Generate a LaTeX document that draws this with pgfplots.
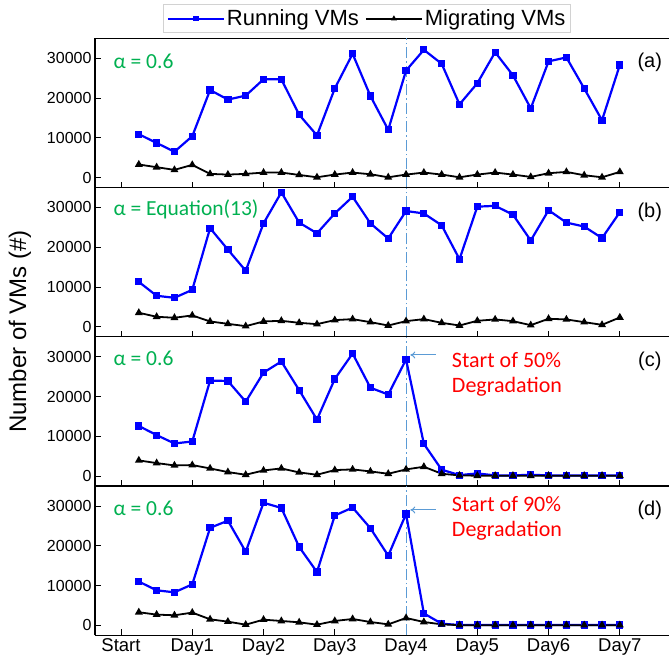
\documentclass[border=0pt]{standalone}
\usepackage{pgfplots}
\pgfplotsset{compat=1.18}
\usepackage{pgfplotstable}
\usetikzlibrary{arrows.meta}
\usepackage{fontspec}
\setmainfont{Liberation Sans}
\newfontfamily\calibri{Carlito}
\definecolor{vmblue}{RGB}{0,0,255}
\definecolor{alphagreen}{RGB}{0,176,80}
\definecolor{lineblue}{RGB}{91,155,213}

\pgfplotstableread{
x ra ma rb mb rc mc rd md
0.25 10900 3290 11300 3540 12600 3940 11000 3290
0.50 8700 2610 7800 2530 10300 3270 8800 2700
0.75 6500 1940 7300 2280 8200 2680 8300 2530
1.00 10400 3200 9300 2870 8700 2770 10300 3200
1.25 22000 930 24800 1350 24000 1930 24500 1520
1.50 19600 760 19400 760 23900 1010 26300 930
1.75 20600 930 14100 170 18700 340 18500 170
2.00 24700 1260 26000 1350 26000 1420 30800 1430
2.25 24700 1260 33800 1520 28800 1930 29500 1100
2.50 15800 670 26200 1010 21600 920 19700 760
2.75 10600 80 23500 680 14200 340 13400 170
3.00 22400 760 28500 1690 24400 1510 27600 1100
3.25 31100 1260 32700 1940 30800 1680 29600 1600
3.50 20500 840 26000 1180 22200 1170 24400 840
3.75 12000 80 22200 340 20500 590 17500 250
4.00 26900 760 29100 1430 29300 1680 28000 1850
4.25 32100 1260 28500 1940 8100 2350 3000 840
4.50 28600 760 25500 1010 1600 590 420 250
4.75 18400 80 17000 340 250 170 80 50
5.00 23700 760 30200 1520 670 100 80 50
5.25 31500 1260 30400 1860 170 100 80 50
5.50 25700 760 28200 1430 170 100 80 50
5.75 17400 170 21700 420 340 100 80 50
6.00 29200 1100 29300 2030 170 100 80 50
6.25 30200 1430 26200 1860 170 100 80 50
6.50 22400 590 25200 1180 170 100 80 50
6.75 14400 80 22300 510 170 100 80 50
7.00 28300 1430 28800 2360 170 100 80 50
}\data

\tikzset{
  run/.style={vmblue, line width=2.2pt, mark=square*, mark size=2.5pt, mark options={solid}},
  mig/.style={black, line width=1.8pt, mark=triangle*, mark size=2.8pt, mark options={solid}},
  vline/.style={lineblue, line width=1.1pt, dash pattern=on 11pt off 3pt on 1.5pt off 3pt},
  alab/.style={anchor=west, text=alphagreen, font=\calibri\fontsize{21.5}{24}\selectfont},
  plab/.style={font=\fontsize{20}{22}\selectfont},
  rlab/.style={anchor=west, text=red, align=left, font=\calibri\fontsize{22}{25.3}\selectfont},
  arr/.style={lineblue, line width=1pt, -{To[length=5pt,width=7pt]}},
}

\pgfplotsset{
  panel/.style={
    scale only axis, width=574pt, height=149.25pt,
    xmin=-0.365, xmax=7.69, ymin=-2500, ymax=35000,
    axis x line*=box, axis y line*=left,
    axis line style={-, line width=1.2pt, black},
    xtick={0,...,7}, xticklabels={},
    xtick pos=bottom, ytick pos=left,
    ytick={0,10000,20000,30000},
    tick align=inside, major tick length=6pt,
    tick style={black, line width=0.9pt},
    scaled y ticks=false,
    /pgf/number format/1000 sep={},
    /pgf/number format/assume math mode=true,
    yticklabel style={font=\fontsize{16}{18}\selectfont},
    xticklabel style={font=\fontsize{18.5}{20}\selectfont},
  },
}

\begin{document}
\begin{tikzpicture}
% (a)
\begin{axis}[panel, at={(95pt,476.45pt)}, anchor=south west,
  legend columns=2,
  legend image code/.code={\draw[mark repeat=2,mark phase=2,#1,mark size=1.6pt] plot coordinates {(0pt,0pt) (28pt,0pt) (56pt,0pt)};},
  legend style={at={(0.474,1)}, anchor=south, yshift=5pt, draw=gray!35, line width=0.8pt,
    font=\fontsize{22}{24}\selectfont, inner xsep=3pt, inner ysep=3.5pt,
    /tikz/every even column/.append style={column sep=4pt}},
  ]
\addplot[vline, forget plot] coordinates {(4,-2500) (4,35000)};
\addplot[run] table[x=x,y=ra] {\data};
\addlegendentry{Running VMs}
\addplot[mig] table[x=x,y=ma] {\data};
\addlegendentry{Migrating VMs}
\node[alab] at (axis cs:-0.154,29300) {α = 0.6};
\node[plab] at (axis cs:7.42,29000) {(a)};
\end{axis}
% (b)
\begin{axis}[panel, at={(95pt,327.2pt)}, anchor=south west]
\addplot[vline] coordinates {(4,-2500) (4,35000)};
\addplot[run] table[x=x,y=rb] {\data};
\addplot[mig] table[x=x,y=mb] {\data};
\node[alab] at (axis cs:-0.154,29500) {α = Equation(13)};
\node[plab] at (axis cs:7.42,28800) {(b)};
\end{axis}
% (c)
\begin{axis}[panel, at={(95pt,177.95pt)}, anchor=south west]
\addplot[vline] coordinates {(4,-2500) (4,35000)};
\addplot[run] table[x=x,y=rc] {\data};
\addplot[mig] table[x=x,y=mc] {\data};
\node[alab] at (axis cs:-0.154,29500) {α = 0.6};
\node[plab] at (axis cs:7.42,28800) {(c)};
\draw[arr] (axis cs:4.42,30430) -- (axis cs:4.06,30430);
\node[rlab] at (axis cs:4.595,25600) {Start of 50\%\\Degradation};
\end{axis}
% (d)
\begin{axis}[panel, at={(95pt,28.7pt)}, anchor=south west,
  xticklabels={Start,Day1,Day2,Day3,Day4,Day5,Day6,Day7}]
\addplot[vline] coordinates {(4,-2500) (4,35000)};
\addplot[run] table[x=x,y=rd] {\data};
\addplot[mig] table[x=x,y=md] {\data};
\node[alab] at (axis cs:-0.154,29500) {α = 0.6};
\node[plab] at (axis cs:7.42,29000) {(d)};
\draw[arr] (axis cs:4.42,29000) -- (axis cs:4.06,29000);
\node[rlab] at (axis cs:4.595,26900) {Start of 90\%\\Degradation};
\end{axis}
\node[rotate=90, font=\fontsize{24}{26}\selectfont] at (20pt,332.5pt) {Number of VMs (\#)};
\pgfresetboundingbox
\path[use as bounding box] (0,0) rectangle (669pt,664pt);
\end{tikzpicture}
\end{document}
